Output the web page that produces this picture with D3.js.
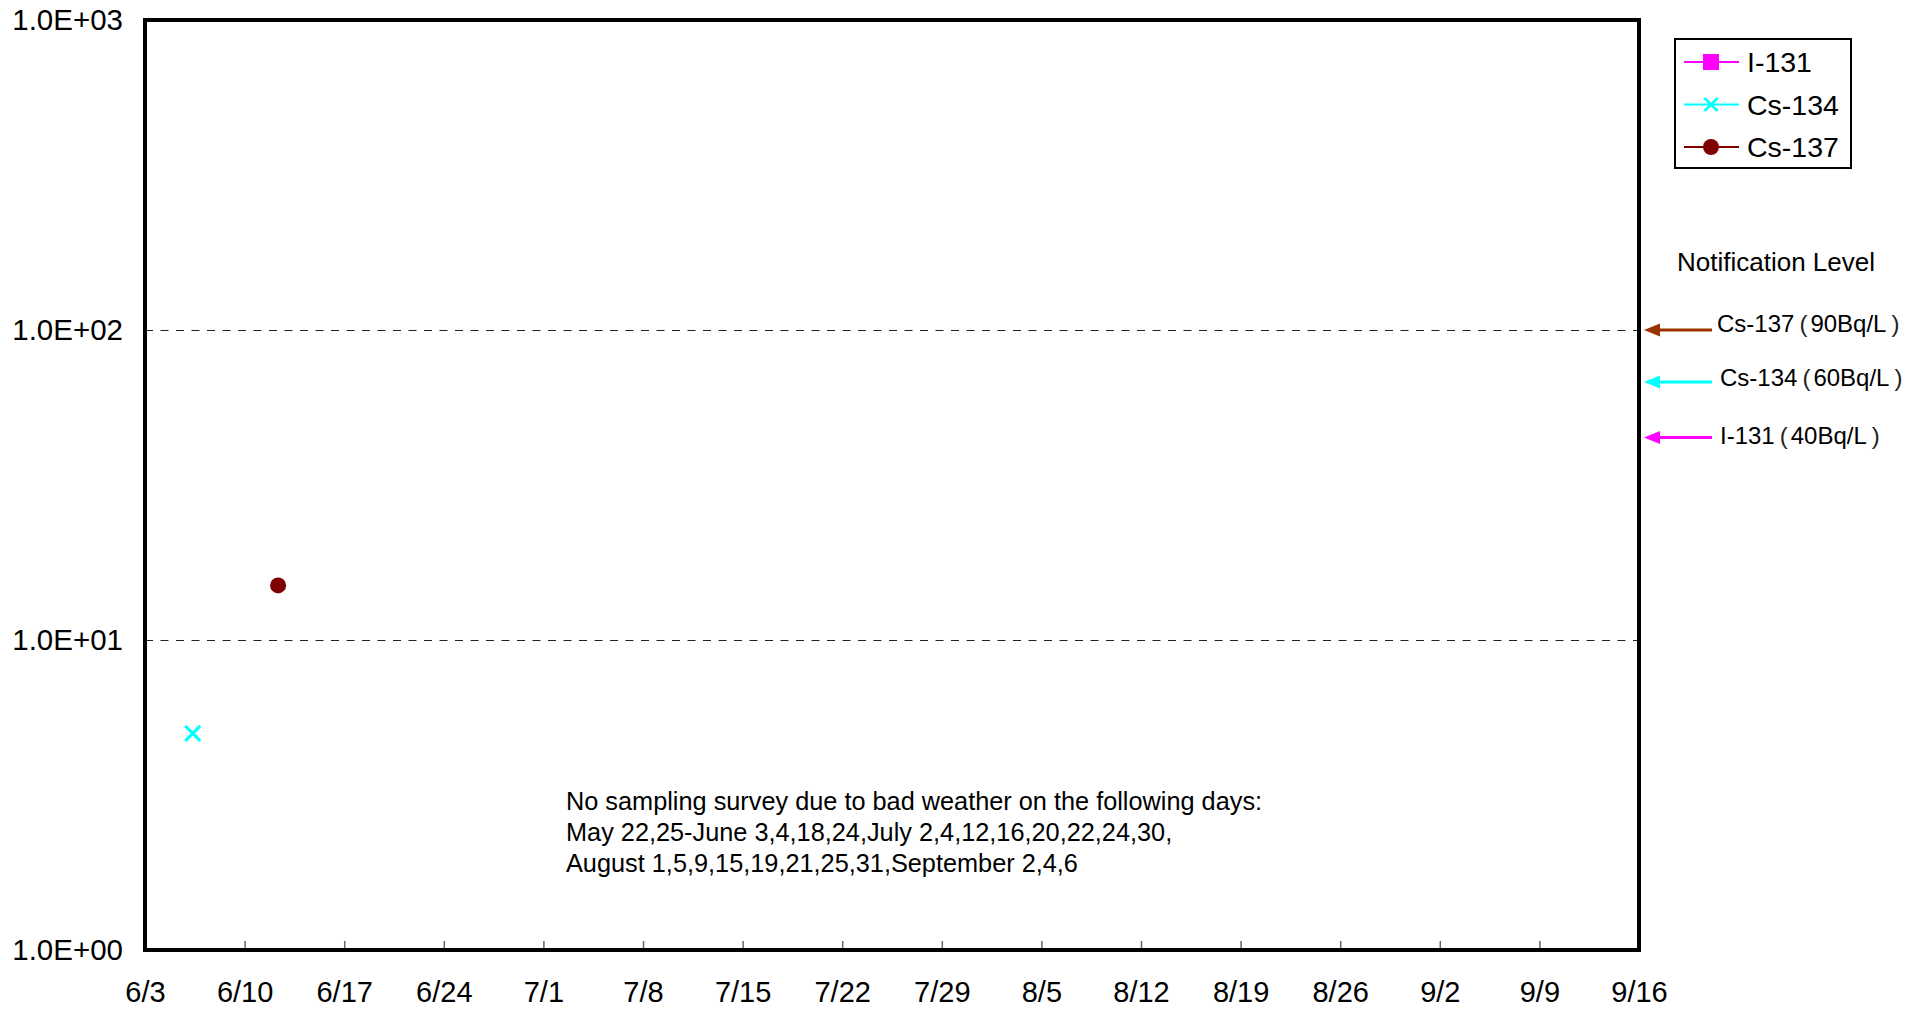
<!DOCTYPE html>
<html>
<head>
<meta charset="utf-8">
<script src="https://cdn.jsdelivr.net/npm/d3@7"></script>
<style>
  html, body { margin: 0; padding: 0; background: #fff; }
  svg { display: block; font-family: Arial, "Liberation Sans", sans-serif; }
</style>
</head>
<body>
<svg id="chart" width="1930" height="1011"></svg>
<script>
// ---------- data ----------
const year = 2011;
const xTickLabels = ["6/3","6/10","6/17","6/24","7/1","7/8","7/15","7/22","7/29","8/5","8/12","8/19","8/26","9/2","9/9","9/16"];
const yTickValues = [1, 10, 100, 1000];
const yTickLabels = ["1.0E+00","1.0E+01","1.0E+02","1.0E+03"];

const seriesNames  = ["I-131", "Cs-134", "Cs-137"];
const seriesColors = ["#FF00FF", "#00FFFF", "#800000"];
const seriesMarkers = ["square", "cross", "circle"];

// measurements (date with sampling time, Bq/L)
const i131Dates = [];
const i131Values = [];
const cs134Dates = ["2011-06-06T08:30"];
const cs134Values = [5.0];
const cs137Dates = ["2011-06-12T08:30"];
const cs137Values = [15];

// notification levels
const levelNames = ["Cs-137", "Cs-134", "I-131"];
const levelValuesText = ["90Bq/L", "60Bq/L", "40Bq/L"];
const levelArrowValues = [100, 68, 45];   // where arrows point on the axis
const levelColors = ["#993300", "#00FFFF", "#FF00FF"];

const noteLines = [
  "No sampling survey due to bad weather on the following days:",
  "May 22,25-June 3,4,18,24,July 2,4,12,16,20,22,24,30,",
  "August 1,5,9,15,19,21,25,31,September 2,4,6"
];

// ---------- layout ----------
const L = 145, R = 1639, T = 20, B = 950;
const svg = d3.select("#chart");

const parseTick = s => { const [m, d] = s.split("/").map(Number); return new Date(year, m - 1, d); };
const tickDates = xTickLabels.map(parseTick);
const x = d3.scaleTime().domain([tickDates[0], tickDates[tickDates.length - 1]]).range([L, R]);
const y = d3.scaleLog().domain([1, 1000]).range([B, T]);

// gridlines
svg.append("g").selectAll("line")
  .data([10, 100]).join("line")
  .attr("x1", L).attr("x2", R)
  .attr("y1", d => Math.round(y(d)) + 0.5).attr("y2", d => Math.round(y(d)) + 0.5)
  .attr("stroke", "#222").attr("stroke-width", 1)
  .attr("stroke-dasharray", "8,7.5");

// x axis
const labelMap = new Map(tickDates.map((d, i) => [+d, xTickLabels[i]]));
const xAxis = d3.axisBottom(x).tickValues(tickDates)
  .tickFormat(d => labelMap.get(+d))
  .tickSizeInner(-9).tickSizeOuter(0).tickPadding(31);
const gx = svg.append("g").attr("transform", `translate(0,${B})`).call(xAxis);
gx.select(".domain").remove();
gx.selectAll(".tick line").attr("stroke", "#666").attr("stroke-width", 1.5)
  .attr("display", (d, i) => (i === 0 || i === tickDates.length - 1) ? "none" : null);
gx.selectAll(".tick text").attr("font-size", 29).attr("fill", "#000")
  .attr("font-family", "Arial, 'Liberation Sans', sans-serif");

// y axis
const yLabelMap = new Map(yTickValues.map((v, i) => [v, yTickLabels[i]]));
const yAxis = d3.axisLeft(y).tickValues(yTickValues)
  .tickFormat(d => yLabelMap.get(d)).tickSize(0).tickPadding(22);
const gy = svg.append("g").attr("transform", `translate(${L},0)`).call(yAxis);
gy.select(".domain").remove();
gy.selectAll(".tick text").attr("font-size", 29.5).attr("fill", "#000")
  .attr("font-family", "Arial, 'Liberation Sans', sans-serif");

// frame
svg.append("rect").attr("x", L).attr("y", T).attr("width", R - L).attr("height", B - T)
  .attr("fill", "none").attr("stroke", "#000").attr("stroke-width", 4);

// markers
function drawMarker(g, type, color, size, sw) {
  if (type === "square") {
    g.append("rect").attr("x", -size / 2).attr("y", -size / 2).attr("width", size).attr("height", size).attr("fill", color);
  } else if (type === "circle") {
    g.append("circle").attr("r", size / 2).attr("fill", color);
  } else {
    const h = size / 2;
    g.append("path").attr("d", `M${-h},${-h}L${h},${h}M${-h},${h}L${h},${-h}`)
      .attr("stroke", color).attr("stroke-width", sw || 3).attr("fill", "none");
  }
}
const allSeries = [
  { dates: i131Dates, values: i131Values },
  { dates: cs134Dates, values: cs134Values },
  { dates: cs137Dates, values: cs137Values }
];
const parseDT = d3.timeParse("%Y-%m-%dT%H:%M");
allSeries.forEach((s, si) => {
  const pts = s.dates.map((d, i) => ({ t: parseDT(d), v: s.values[i] }));
  const line = d3.line().x(p => x(p.t)).y(p => y(p.v));
  if (pts.length > 1) svg.append("path").datum(pts).attr("d", line)
    .attr("fill", "none").attr("stroke", seriesColors[si]).attr("stroke-width", 2);
  pts.forEach(p => {
    const g = svg.append("g").attr("transform", `translate(${x(p.t)},${y(p.v)})`);
    drawMarker(g, seriesMarkers[si], seriesColors[si], seriesMarkers[si] === "circle" ? 16 : 15, 3);
  });
});

// legend
const lg = svg.append("g");
lg.append("rect").attr("x", 1675).attr("y", 39).attr("width", 176).attr("height", 129)
  .attr("fill", "#fff").attr("stroke", "#000").attr("stroke-width", 2);
seriesNames.forEach((n, i) => {
  const yy = 62 + i * 42.5;
  lg.append("line").attr("x1", 1684).attr("x2", 1739).attr("y1", yy).attr("y2", yy)
    .attr("stroke", seriesColors[i]).attr("stroke-width", 2);
  const g = lg.append("g").attr("transform", `translate(1711,${yy})`);
  drawMarker(g, seriesMarkers[i], seriesColors[i], seriesMarkers[i] === "cross" ? 13 : 16, 2.5);
  lg.append("text").attr("x", 1747).attr("y", yy).attr("dy", "0.36em")
    .attr("font-size", 28.5).text(n);
});

// notification levels
svg.append("text").attr("x", 1677).attr("y", 262).attr("dy", "0.36em")
  .attr("font-size", 26).text("Notification Level");
const labelOffsets = [-7, -5, -2];
levelNames.forEach((nm, i) => {
  const yy = y(levelArrowValues[i]);
  svg.append("line").attr("x1", 1712).attr("x2", 1658).attr("y1", yy).attr("y2", yy)
    .attr("stroke", levelColors[i]).attr("stroke-width", 3);
  svg.append("path").attr("d", `M1644,${yy}L1660,${yy - 6.5}L1660,${yy + 6.5}Z`).attr("fill", levelColors[i]);
  const t = svg.append("text").attr("x", i === 0 ? 1717 : 1720).attr("y", yy + labelOffsets[i]).attr("dy", "0.36em")
    .attr("font-size", 24);
  t.append("tspan").text(nm);
  t.append("tspan").attr("dx", 5).attr("font-weight", 300).attr("fill", "#222").text("(");
  t.append("tspan").attr("dx", 3).text(levelValuesText[i]);
  t.append("tspan").attr("dx", 5).attr("fill", "#222").text(")");
});

// note
svg.append("g").selectAll("text").data(noteLines).join("text")
  .attr("x", 566).attr("y", (d, i) => 801 + i * 31).attr("dy", "0.36em")
  .attr("font-size", 25.3).text(d => d);
</script>
</body>
</html>
